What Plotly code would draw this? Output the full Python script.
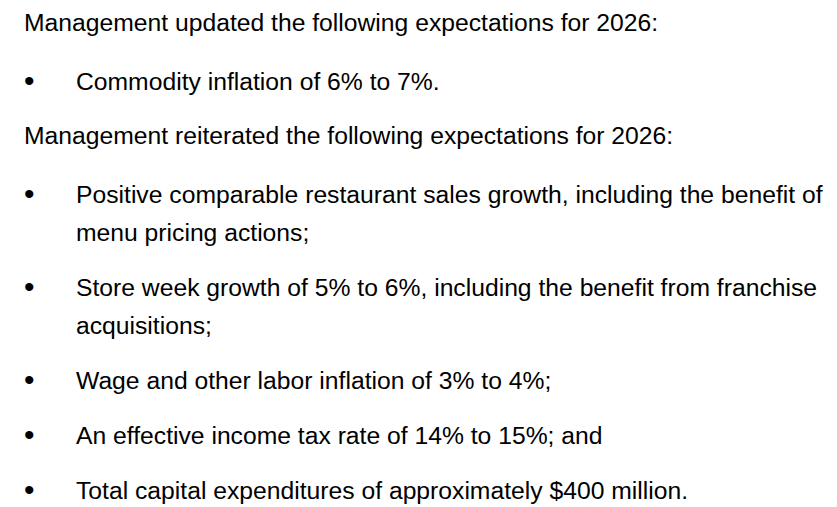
import plotly.graph_objects as go

# Text content
header_updated = "Management updated the following expectations for 2026:"
updated_items = [
    ["Commodity inflation of 6% to 7%."],
]
header_reiterated = "Management reiterated the following expectations for 2026:"
reiterated_items = [
    ["Positive comparable restaurant sales growth, including the benefit of",
     "menu pricing actions;"],
    ["Store week growth of 5% to 6%, including the benefit from franchise",
     "acquisitions;"],
    ["Wage and other labor inflation of 3% to 4%;"],
    ["An effective income tax rate of 14% to 15%; and"],
    ["Total capital expenditures of approximately $400 million."],
]

W, H = 837, 507
FONT = dict(family="Liberation Sans, Arial, sans-serif", size=24.7, color="#000000")

# -------------------------------
# Build the lines (text baseline positions in px)
# -------------------------------
annotations = []
PAGE_OFFSET = 8      # browser body margin around the figure
baseline = 30
AFTER_HEADER = 59
AFTER_ITEM = 55
WRAP = 38
CENTER_OFFSET = 8    # baseline -> middle of the text box


def add_text(x, y, text, font=FONT):
    annotations.append(dict(
        x=x - PAGE_OFFSET, y=y - CENTER_OFFSET - PAGE_OFFSET,
        xref="x", yref="y", text=text,
        showarrow=False, xanchor="left", yanchor="middle", font=font,
    ))


def add_item(lines, y):
    add_text(22, y - 1, "•", dict(FONT, size=30))
    for i, line in enumerate(lines):
        add_text(74, y + i * WRAP, line)
    return y + (len(lines) - 1) * WRAP


for header, items in [(header_updated, updated_items),
                      (header_reiterated, reiterated_items)]:
    add_text(22, baseline, header)
    baseline += AFTER_HEADER
    for item in items:
        baseline = add_item(item, baseline)
        baseline += AFTER_ITEM
    baseline -= AFTER_ITEM - 54

fig = go.Figure()
fig.update_layout(
    width=W, height=H,
    margin=dict(l=0, r=0, t=0, b=0),
    paper_bgcolor="white", plot_bgcolor="white",
    xaxis=dict(range=[0, W], visible=False, fixedrange=True),
    yaxis=dict(range=[H, 0], visible=False, fixedrange=True),
    annotations=annotations,
    showlegend=False,
)

fig.write_html("out.html")
